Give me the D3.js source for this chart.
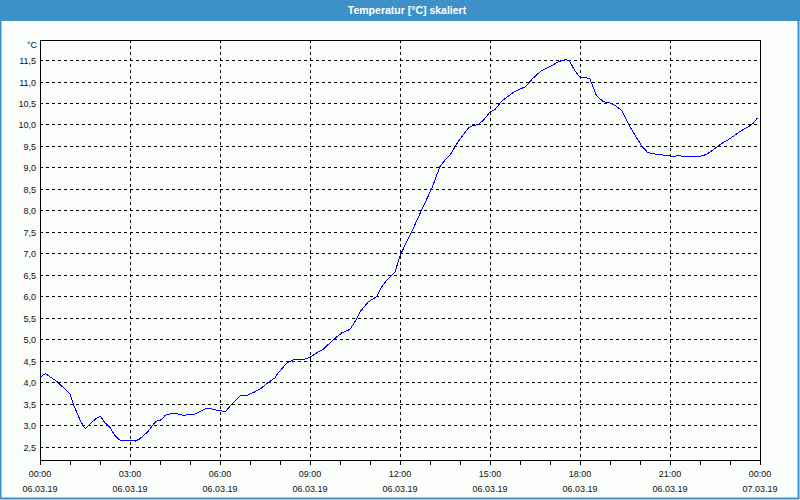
<!DOCTYPE html>
<html>
<head>
<meta charset="utf-8">
<script src="https://cdn.jsdelivr.net/npm/d3@7"></script>
<style>
  html, body { margin: 0; padding: 0; background: #fbfdfb; }
  svg { display: block; }
  text { font-family: "Liberation Sans", Arial, sans-serif; }
</style>
</head>
<body>
<script>
// ---- data (hours since 06.03.19 00:00, temperature °C) ----
const hours = [0.00,0.18,0.54,0.99,1.10,1.36,1.51,1.71,1.88,2.01,2.16,2.32,2.49,2.68,2.82,3.10,3.18,3.32,3.60,3.80,3.88,
  4.06,4.17,4.39,4.56,4.78,5.00,5.17,5.50,5.72,5.94,6.06,6.20,6.39,6.67,6.89,7.17,7.39,7.56,7.83,7.92,8.22,8.44,8.83,
  9.00,9.22,9.44,9.78,10.06,10.33,10.50,10.67,10.94,11.22,11.39,11.56,11.83,12.00,12.14,12.39,12.72,13.06,13.33,13.50,
  13.67,13.94,14.28,14.39,14.61,14.78,15.00,15.17,15.40,15.79,16.02,16.19,16.41,16.69,17.03,17.31,17.54,17.65,17.82,
  18.02,18.16,18.33,18.44,18.55,18.78,19.00,19.17,19.40,19.62,19.85,20.07,20.24,20.41,20.75,21.09,21.31,21.59,21.99,
  22.21,22.44,22.66,23.00,23.34,23.62,23.79,23.92];
const temps = [4.12,4.20,4.03,3.74,3.51,3.08,2.92,3.06,3.16,3.21,3.06,2.96,2.77,2.64,2.65,2.65,2.63,2.68,2.85,3.04,3.09,
  3.13,3.23,3.27,3.27,3.23,3.25,3.26,3.38,3.38,3.34,3.33,3.33,3.49,3.68,3.69,3.78,3.87,3.97,4.10,4.20,4.44,4.52,4.54,
  4.58,4.68,4.77,4.99,5.15,5.23,5.41,5.64,5.87,5.99,6.22,6.38,6.56,6.94,7.15,7.50,8.01,8.51,9.02,9.17,
  9.29,9.60,9.92,9.96,10.00,10.10,10.29,10.35,10.55,10.75,10.83,10.88,11.06,11.24,11.36,11.47,11.51,11.48,11.26,
  11.08,11.10,11.06,10.87,10.67,10.53,10.50,10.44,10.32,10.00,9.73,9.49,9.36,9.32,9.29,9.26,9.27,9.25,9.26,
  9.30,9.41,9.53,9.67,9.84,9.95,10.04,10.16];

const yTicks = [2.5,3.0,3.5,4.0,4.5,5.0,5.5,6.0,6.5,7.0,7.5,8.0,8.5,9.0,9.5,10.0,10.5,11.0,11.5];
const xMajorHours = [0,3,6,9,12,15,18,21,24];
const xTimeLabels = ["00:00","03:00","06:00","09:00","12:00","15:00","18:00","21:00","00:00"];
const xDateLabels = ["06.03.19","06.03.19","06.03.19","06.03.19","06.03.19","06.03.19","06.03.19","06.03.19","07.03.19"];
const xMinorHours = d3.range(0, 25, 1);
const title = "Temperatur [°C] skaliert";
const yUnit = "°C";

// ---- layout ----
const W = 800, H = 500;
const plot = {left: 40, right: 760, top: 40, bottom: 460};

const svg = d3.select("body").append("svg").attr("width", W).attr("height", H);

svg.append("rect").attr("x", 0).attr("y", 0).attr("width", W).attr("height", H).attr("fill", "#fbfdfb");

// border and title bar
svg.append("rect").attr("x", 0.5).attr("y", 0.5).attr("width", W - 2).attr("height", H - 2)
  .attr("fill", "none").attr("stroke", "#3d91c8").attr("stroke-width", 2);
svg.append("rect").attr("x", 0).attr("y", 0).attr("width", W).attr("height", 21).attr("fill", "#3d91c8");
svg.append("text").attr("x", 407).attr("y", 14).attr("text-anchor", "middle")
  .attr("fill", "#ffffff").attr("font-weight", "bold").attr("font-size", "10.5px").text(title);

const x = d3.scaleLinear().domain([0, 24]).range([plot.left, plot.right]);
const y = d3.scaleLinear().domain([2.19, 11.966]).range([plot.bottom, plot.top]);

const px = v => Math.round(v) + 0.5;

// horizontal grid
const g = svg.append("g").attr("shape-rendering", "crispEdges");
g.selectAll("line.hg").data(yTicks).enter().append("line")
  .attr("x1", plot.left).attr("x2", plot.right)
  .attr("y1", d => px(y(d))).attr("y2", d => px(y(d)))
  .attr("stroke", "#000").attr("stroke-dasharray", "3,3");
// vertical grid
g.selectAll("line.vg").data(xMajorHours.slice(1, -1)).enter().append("line")
  .attr("x1", d => px(x(d))).attr("x2", d => px(x(d)))
  .attr("y1", plot.top).attr("y2", plot.bottom)
  .attr("stroke", "#000").attr("stroke-dasharray", "3,3");

// frame
g.append("line").attr("x1", plot.left).attr("x2", plot.right + 1).attr("y1", plot.top + 0.5).attr("y2", plot.top + 0.5).attr("stroke", "#000");
g.append("line").attr("x1", plot.left + 0.5).attr("x2", plot.left + 0.5).attr("y1", plot.top).attr("y2", plot.bottom + 1).attr("stroke", "#000");
g.append("line").attr("x1", plot.right + 0.5).attr("x2", plot.right + 0.5).attr("y1", plot.top).attr("y2", plot.bottom + 1).attr("stroke", "#000");
g.append("line").attr("x1", plot.left).attr("x2", plot.right + 1).attr("y1", plot.bottom + 0.5).attr("y2", plot.bottom + 0.5).attr("stroke", "#000");

// x minor ticks
g.selectAll("line.xt").data(xMinorHours).enter().append("line")
  .attr("x1", d => px(x(d))).attr("x2", d => px(x(d)))
  .attr("y1", plot.bottom).attr("y2", plot.bottom + 5)
  .attr("stroke", "#000");

// y labels
const fmt = d => d.toFixed(1).replace(".", ",");
svg.selectAll("text.yl").data(yTicks).enter().append("text")
  .attr("x", 36).attr("y", d => Math.round(y(d)) + 3.5)
  .attr("text-anchor", "end").attr("font-size", "9px").attr("fill", "#111")
  .text(fmt);
svg.append("text").attr("x", 37).attr("y", 47.5).attr("text-anchor", "end")
  .attr("font-size", "9px").attr("fill", "#111").text(yUnit);

// x labels
svg.selectAll("text.xl").data(xMajorHours).enter().append("text")
  .attr("x", d => x(d)).attr("y", 476.5).attr("text-anchor", "middle")
  .attr("font-size", "9px").attr("fill", "#111").text((d, i) => xTimeLabels[i]);
svg.selectAll("text.xd").data(xMajorHours).enter().append("text")
  .attr("x", d => x(d)).attr("y", 491.5).attr("text-anchor", "middle")
  .attr("font-size", "9px").attr("fill", "#111").text((d, i) => xDateLabels[i]);

// data line
const pts = hours.map((h, i) => [h, temps[i]]);
svg.append("path").datum(pts)
  .attr("d", d3.line().x(d => x(d[0])).y(d => y(d[1])))
  .attr("fill", "none").attr("stroke", "#0000ff").attr("stroke-width", 1)
  .attr("shape-rendering", "crispEdges");
</script>
</body>
</html>
